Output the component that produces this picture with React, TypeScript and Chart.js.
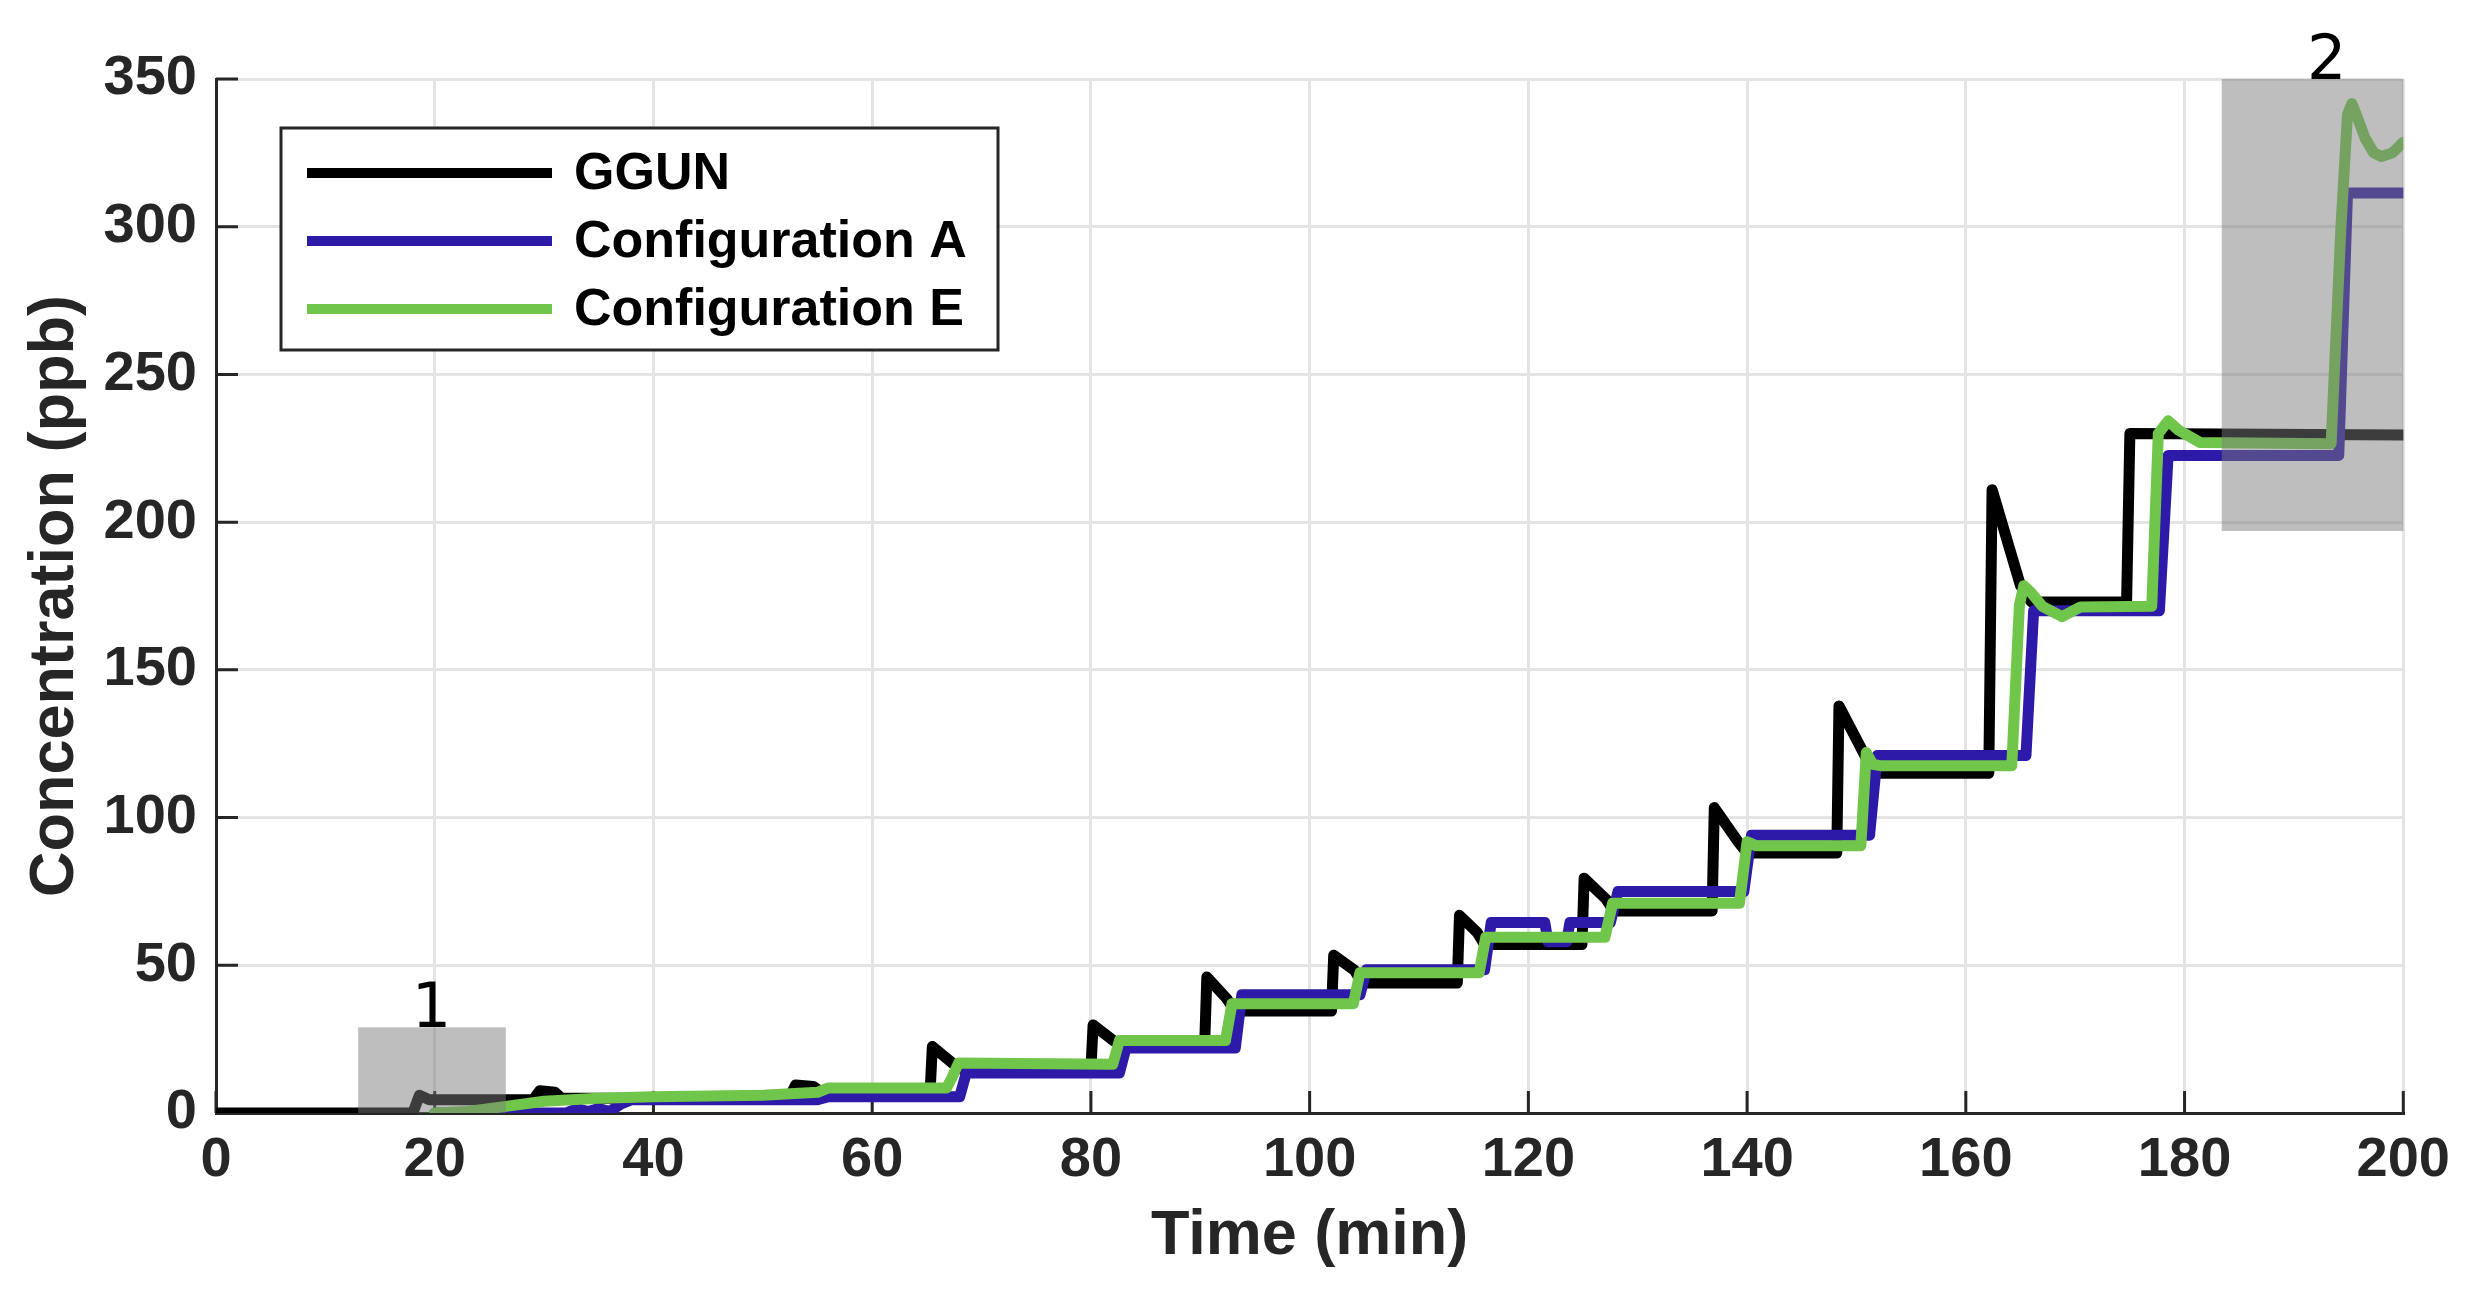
import React, { useEffect, useRef } from 'react';
import { Chart, registerables } from 'chart.js';

Chart.register(...registerables);

// ---- data ----
const seriesLabels = ['GGUN', 'Configuration A', 'Configuration E'];

const ggunTime = [0, 18, 18.6, 19.5, 29, 29.6, 31, 31.6, 52.4, 53, 54.6, 55.2, 65.3, 65.5, 67.3, 68, 80, 80.2, 82, 82.7, 90.4, 90.6, 92.4, 93.2, 102, 102.2, 104.1, 104.8, 113.5, 113.7, 115.3, 116, 124.9, 125.1, 127.1, 127.8, 136.8, 137.0, 139.2, 140, 148.2, 148.4, 150.8, 151.6, 162.1, 162.4, 165, 166, 174.7, 175, 200];
const ggunConc = [0, 0, 6, 4.5, 4.5, 7.5, 7, 5, 5, 9.5, 9, 7.5, 7.5, 22.5, 17, 15, 15, 29.8, 24.7, 23, 23, 46, 38.8, 34.5, 34.5, 53.4, 48.3, 44, 44, 66.9, 61.2, 57, 57, 79.5, 72.4, 68.4, 68.4, 103.4, 91.7, 88, 88, 137.8, 120.8, 115, 115, 211, 178.5, 173, 173, 230, 229.5];

const confATime = [20, 32, 33, 34, 35, 36, 37, 38, 55, 56, 68, 68.6, 82.6, 83.2, 93.2, 93.8, 104.6, 105.2, 116, 116.6, 121.5, 121.8, 123.5, 123.8, 127.5, 128.2, 139.7, 140.4, 151.2, 151.9, 165.5, 166.2, 177.7, 178.5, 194.1, 194.9, 200];
const confAConc = [0, 0, 1.5, 0.5, 1.5, 0.5, 3, 4.5, 4.5, 5.5, 5.5, 13.5, 13.5, 22, 22, 40, 40, 48.5, 48.5, 64.5, 64.5, 58, 58, 64.5, 64.5, 75, 75, 94, 94, 121, 121, 170, 170, 222.6, 222.6, 311.4, 311.4];

const confETime = [20, 23, 26, 30, 35, 40, 50, 55, 56, 66.8, 67.3, 67.9, 82.0, 82.6, 92.3, 92.9, 104.0, 104.6, 115.5, 116.1, 127.0, 127.7, 139.3, 140.0, 140.8, 150.4, 150.9, 151.5, 152.3, 164.2, 164.9, 165.3, 166.0, 167.0, 168.8, 170.5, 177.0, 177.6, 178.5, 179.5, 181.4, 193.4, 194.3, 194.9, 195.3, 195.9, 196.5, 197.3, 198.0, 199.0, 200];
const confEConc = [0, 0.5, 2, 4, 5, 5.5, 6, 7, 8.5, 8.5, 12, 16.9, 16.5, 24.5, 24.5, 37, 37, 47.5, 47.5, 59.5, 59.5, 71, 71, 91.8, 90.5, 90.5, 122, 118, 117.5, 117.5, 172, 178.5, 176, 171.5, 168, 171.3, 171.5, 230, 234.3, 231, 227, 226.5, 300, 338, 341.7, 336, 330, 325, 323.8, 325, 328.6];

const xMin = 0;
const xMax = 200;
const xStep = 20;
const yMin = 0;
const yMax = 350;
const yStep = 50;

// highlighted regions
const boxLabels = ['1', '2'];
const boxXStart = [13, 183.4];
const boxXEnd = [26.5, 200];
const boxYStart = [0, 197];
const boxYEnd = [29, 350];
const boxLabelX = [19.7, 193];

const lineColors = ['#000000', '#2d1aa8', '#70c64a'];
const axisColor = '#262626';
const FONT = "'Liberation Sans', Arial, Helvetica, sans-serif";

function toPoints(t: number[], v: number[]) {
  return t.map((x, i) => ({ x, y: v[i] }));
}

export default function App() {
  const ref = useRef<HTMLCanvasElement>(null);

  useEffect(() => {
    const canvas = ref.current;
    if (!canvas) return;

    const inwardTicks = {
      id: 'inwardTicks',
      beforeDatasetsDraw(chart: any) {
        const { ctx, chartArea: a, scales } = chart;
        const x = scales.x;
        const y = scales.y;
        ctx.save();
        ctx.strokeStyle = axisColor;
        ctx.lineWidth = 3;
        ctx.beginPath();
        x.ticks.forEach((t: any) => {
          const px = x.getPixelForValue(t.value);
          ctx.moveTo(px, a.bottom);
          ctx.lineTo(px, a.bottom - 22);
        });
        y.ticks.forEach((t: any) => {
          const py = y.getPixelForValue(t.value);
          ctx.moveTo(a.left, py);
          ctx.lineTo(a.left + 22, py);
        });
        ctx.stroke();
        ctx.restore();
      },
    };

    const regions = {
      id: 'regions',
      afterDatasetsDraw(chart: any) {
        const { ctx, scales } = chart;
        const x = scales.x;
        const y = scales.y;
        ctx.save();
        for (let i = 0; i < boxLabels.length; i++) {
          const x0 = x.getPixelForValue(boxXStart[i]);
          const x1 = x.getPixelForValue(boxXEnd[i]);
          const y0 = y.getPixelForValue(boxYStart[i]);
          const y1 = y.getPixelForValue(boxYEnd[i]);
          ctx.fillStyle = 'rgba(122,122,122,0.49)';
          ctx.fillRect(x0, y1, x1 - x0, y0 - y1);
          ctx.fillStyle = '#000000';
          ctx.font = "62px 'DejaVu Sans', sans-serif";
          ctx.textAlign = 'center';
          ctx.textBaseline = 'alphabetic';
          ctx.fillText(boxLabels[i], x.getPixelForValue(boxLabelX[i]), y1);
        }
        ctx.restore();
      },
    };

    const boxedLegend = {
      id: 'boxedLegend',
      afterDraw(chart: any) {
        const { ctx } = chart;
        const left = 273;
        const top = 120;
        const w = 717;
        const h = 222;
        ctx.save();
        ctx.fillStyle = '#ffffff';
        ctx.fillRect(left, top, w, h);
        ctx.strokeStyle = '#262626';
        ctx.lineWidth = 3;
        ctx.strokeRect(left, top, w, h);
        const rows = [165, 233, 301];
        chart.data.datasets.forEach((ds: any, i: number) => {
          ctx.strokeStyle = ds.borderColor;
          ctx.lineWidth = 10;
          ctx.beginPath();
          ctx.moveTo(299, rows[i]);
          ctx.lineTo(544, rows[i]);
          ctx.stroke();
          ctx.fillStyle = '#000000';
          ctx.font = `bold 52px ${FONT}`;
          ctx.textAlign = 'left';
          ctx.textBaseline = 'middle';
          ctx.fillText(ds.label, 566, rows[i] + 2);
        });
        ctx.restore();
      },
    };

    const series = [
      toPoints(ggunTime, ggunConc),
      toPoints(confATime, confAConc),
      toPoints(confETime, confEConc),
    ];

    const chart = new Chart(canvas, {
      type: 'line',
      data: {
        datasets: series.map((data, i) => ({
          label: seriesLabels[i],
          data,
          borderColor: lineColors[i],
          backgroundColor: lineColors[i],
          borderWidth: 11,
          pointRadius: 0,
          tension: 0,
          fill: false,
          order: 3 - i,
          borderJoinStyle: 'round' as const,
          borderCapStyle: 'round' as const,
        })),
      },
      options: {
        animation: false,
        responsive: true,
        maintainAspectRatio: false,
        layout: { padding: { left: 0, right: 60, top: 71, bottom: 0 } },
        plugins: {
          legend: { display: false },
          tooltip: { enabled: false },
        },
        scales: {
          x: {
            type: 'linear',
            min: xMin,
            max: xMax,
            afterFit: (s: any) => {
              s.height = 173;
            },
            ticks: {
              stepSize: xStep,
              color: axisColor,
              padding: 14,
              maxRotation: 0,
              font: { family: FONT, size: 56, weight: 'bold' },
            },
            grid: { color: '#e4e4e4', lineWidth: 3, drawTicks: false },
            border: { display: true, color: axisColor, width: 3 },
            title: {
              display: true,
              text: 'Time (min)',
              color: axisColor,
              font: { family: FONT, size: 63, weight: 'bold' },
              padding: { top: 0, bottom: 12 },
            },
          },
          y: {
            type: 'linear',
            min: yMin,
            max: yMax,
            afterFit: (s: any) => {
              s.width = 208;
            },
            ticks: {
              stepSize: yStep,
              color: axisColor,
              padding: 19,
              font: { family: FONT, size: 56, weight: 'bold' },
            },
            grid: { color: '#e4e4e4', lineWidth: 3, drawTicks: false },
            border: { display: true, color: axisColor, width: 3 },
            title: {
              display: true,
              text: 'Concentration (ppb)',
              color: axisColor,
              font: { family: FONT, size: 63, weight: 'bold' },
              padding: { top: 10, bottom: 0 },
            },
          },
        },
      },
      plugins: [inwardTicks, regions, boxedLegend],
    } as any);

    return () => chart.destroy();
  }, []);

  return (
    <div style={{ position: 'relative', width: 2456, height: 1278 }}>
      <canvas ref={ref} />
    </div>
  );
}
